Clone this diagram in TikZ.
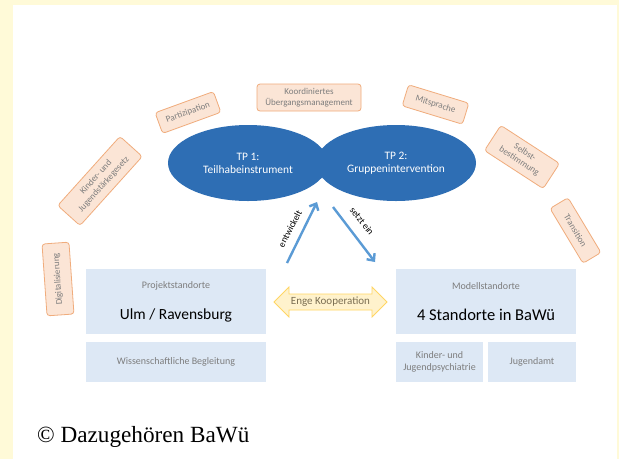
\documentclass[tikz,border=0pt]{standalone}
\usepackage{fontspec}
\setmainfont{Carlito}
\newfontfamily\creditfont{Liberation Serif}
\usetikzlibrary{shapes.geometric,arrows.meta}

\definecolor{frameyellow}{RGB}{255,250,216}
\definecolor{tpblue}{RGB}{46,110,180}
\definecolor{arrowblue}{RGB}{91,155,213}
\definecolor{boxblue}{RGB}{221,232,245}
\definecolor{peachfill}{RGB}{251,229,214}
\definecolor{peachline}{RGB}{240,172,124}
\definecolor{labelgray}{RGB}{125,125,125}
\definecolor{coopfill}{RGB}{255,242,204}
\definecolor{coopline}{RGB}{255,214,100}
\definecolor{cooptext}{RGB}{122,110,82}

\tikzset{
  topic/.style={draw=peachline, fill=peachfill, line width=0.8pt,
    rounded corners=3pt, text=labelgray, align=center, inner sep=0pt,
    font=\fontsize{9}{10.5}\selectfont},
  project/.style={ellipse, fill=tpblue, text=white, align=center,
    minimum width=160, minimum height=76, inner sep=0pt,
    font=\fontsize{11.4}{13}\selectfont},
  sitebox/.style={fill=boxblue, inner sep=0pt, align=center,
    text=labelgray, font=\fontsize{10}{12.5}\selectfont},
  smalllabel/.style={text=labelgray, inner sep=0pt,
    font=\fontsize{10}{12}\selectfont},
  biglabel/.style={text=black, inner sep=0pt},
  flow/.style={draw=arrowblue, line width=2.4pt,
    -{Straight Barb[length=5.5pt,width=10pt]}},
  flowlabel/.style={text=black, inner sep=0pt,
    font=\fontsize{9.5}{11}\selectfont}
}

\begin{document}
\begin{tikzpicture}[x=1pt,y=-1pt]
\useasboundingbox (0,0) rectangle (619,459);

% page frame
\fill[frameyellow] (0,0) rectangle (619,459);
\fill[white] (13,5) rectangle (617,459);

% topic tags around the two sub-projects
\node[topic, minimum width=72, minimum height=27, rotate=94]
  (digital) at (58,279) {Digitalisierung};
\node[topic, minimum width=93, minimum height=30, rotate=48]
  (kjsg) at (100,181) {Kinder- und\\Jugendstärkegesetz};
\node[topic, minimum width=62, minimum height=22, rotate=20]
  (partizipation) at (188,112.5) {Partizipation};
\node[topic, minimum width=104, minimum height=27]
  (uebergang) at (309,97.5) {Koordiniertes\\Übergangsmanagement};
\node[topic, minimum width=63, minimum height=22, rotate=-17]
  (mitsprache) at (435.5,104.5) {Mitsprache};
\node[topic, minimum width=70, minimum height=30, rotate=-33]
  (selbst) at (522,157) {Selbst-\\bestimmung};
\node[topic, minimum width=64, minimum height=21, rotate=-59]
  (transition) at (575.5,230.5) {Transition};

% sub-projects
\node[project] (tp1) at (248,163) {TP 1:\\Teilhabeinstrument};
\node[project] (tp2) at (396,163) {TP 2:\\Gruppenintervention};

% sites
\node[sitebox, minimum width=180, minimum height=65] (proj) at (176,301.5) {};
\node[smalllabel] (projtitle) at (176,286) {Projektstandorte};
\node[biglabel, font=\fontsize{15.5}{18}\selectfont] (projname) at (176,315) {Ulm / Ravensburg};
\node[sitebox, minimum width=180, minimum height=40] (wiss) at (176,362) {Wissenschaftliche Begleitung};

\node[sitebox, minimum width=180, minimum height=65] (modell) at (486,301.5) {};
\node[smalllabel] (modelltitle) at (486,286) {Modellstandorte};
\node[biglabel, font=\fontsize{16.5}{19}\selectfont] (modellname) at (486,315) {4 Standorte in BaWü};
\node[sitebox, minimum width=87, minimum height=40] (kjp) at (439.5,362) {Kinder- und\\Jugendpsychiatrie};
\node[sitebox, minimum width=88, minimum height=40] (jugendamt) at (532,362) {Jugendamt};

% cooperation arrow between the site groups
\path[draw=coopline, fill=coopfill, line width=0.8pt, line join=miter]
  (274,302) -- (289,287) -- (289,294) -- (372,294) -- (372,287)
  -- (387,302) -- (372,317) -- (372,310) -- (289,310) -- (289,317) -- cycle;
\node[inner sep=0pt, text=cooptext, font=\fontsize{11}{13}\selectfont]
  (coop) at (330.5,302) {Enge Kooperation};

% development and deployment arrows
\coordinate (devstart) at (287,263);
\coordinate (devend) at (317,202);
\coordinate (usestart) at (333,207);
\coordinate (useend) at (375,262);
\draw[flow] (devstart) -- (devend);
\draw[flow] (usestart) -- (useend);
\node[flowlabel, rotate=62] (devlabel) at (290,229) {entwickelt};
\node[flowlabel, rotate=-52] (uselabel) at (362,221) {setzt ein};

% credit line
\node[anchor=base west, inner sep=0pt, text=black,
  font=\creditfont\fontsize{23.2}{27}\selectfont]
  (credit) at (37,442) {© Dazugehören BaWü};
\end{tikzpicture}
\end{document}
